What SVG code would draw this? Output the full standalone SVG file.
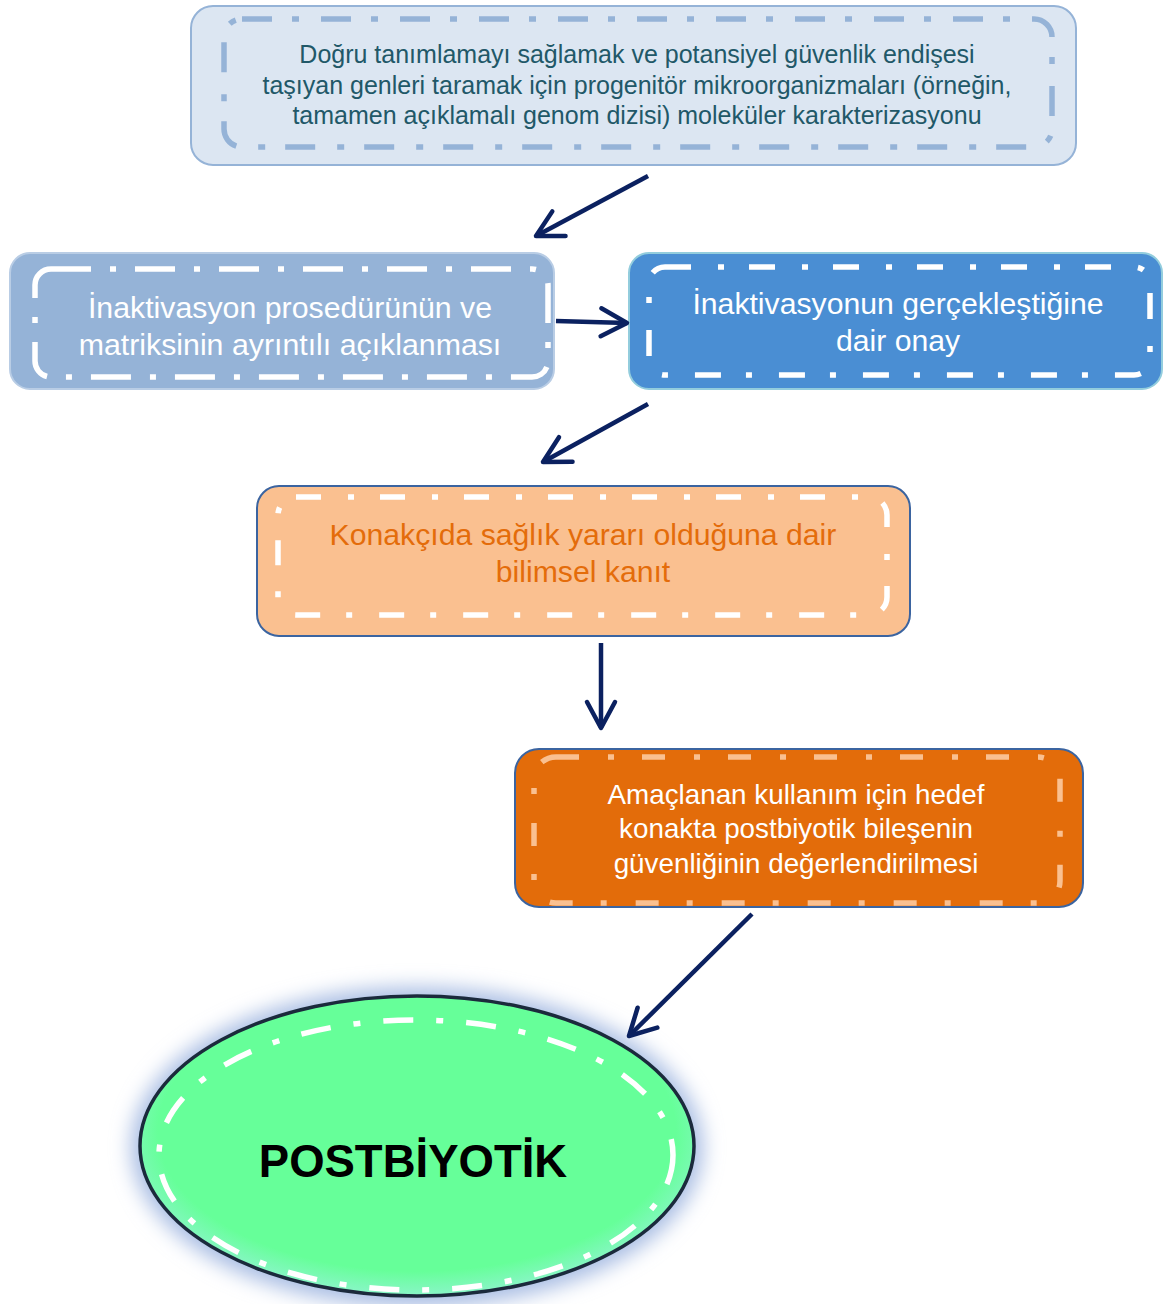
<svg xmlns="http://www.w3.org/2000/svg" width="1164" height="1304" viewBox="0 0 1164 1304">
<defs>
<style>
.t{font-family:"Liberation Sans",Arial,sans-serif;text-anchor:middle}
.conn{fill:none;stroke:#0b2160;stroke-width:4.5;marker-end:url(#ah)}
.inner{fill:none;stroke-width:5.5}
</style>
<marker id="ah" markerUnits="userSpaceOnUse" viewBox="-6 -18 38 36" markerWidth="38" markerHeight="36" refX="28" refY="0" orient="auto">
<path d="M2,-14 L28,0 L2,14" fill="none" stroke="#0b2160" stroke-width="4.5" stroke-linecap="round" stroke-linejoin="round"/>
</marker>
<filter id="glow" x="-20%" y="-20%" width="140%" height="140%">
<feGaussianBlur stdDeviation="10"/>
</filter>
<radialGradient id="eg" cx="0.5" cy="0.45" r="0.55">
<stop offset="0.85" stop-color="#66ff99"/>
<stop offset="1" stop-color="#8af5c8"/>
</radialGradient>
</defs>

<g id="node1">
<rect x="191" y="6" width="885" height="159" rx="22" fill="#dce6f2" stroke="#95b3d7" stroke-width="2"/>
<rect x="224" y="19" width="828" height="128" rx="18" class="inner" stroke="#95b3d7" stroke-dasharray="30 20 7 22"/>
<text class="t" font-size="25" fill="#215868"><tspan x="637" y="63">Doğru tanımlamayı sağlamak ve potansiyel güvenlik endişesi</tspan><tspan x="637" y="94">taşıyan genleri taramak için progenitör mikroorganizmaları (örneğin,</tspan><tspan x="637" y="124">tamamen açıklamalı genom dizisi) moleküler karakterizasyonu</tspan></text>
</g>

<g id="node2">
<rect x="10" y="253" width="544" height="136" rx="20" fill="#95b3d7" stroke="#b9cde5" stroke-width="2"/>
<rect x="35" y="269" width="513" height="108" rx="16" class="inner" stroke="#ffffff" stroke-dasharray="40 19 6 19"/>
<text class="t" font-size="30.3" fill="#ffffff"><tspan x="290" y="318">İnaktivasyon prosedürünün ve</tspan><tspan x="290" y="355">matriksinin ayrıntılı açıklanması</tspan></text>
</g>

<g id="node3">
<rect x="629" y="253" width="533" height="136" rx="20" fill="#4a8ed3" stroke="#93cddd" stroke-width="2"/>
<rect x="649" y="267" width="501" height="108" rx="16" class="inner" stroke="#ffffff" stroke-dasharray="26 27 6 25"/>
<text class="t" font-size="30.2" fill="#ffffff"><tspan x="898" y="314">İnaktivasyonun gerçekleştiğine</tspan><tspan x="898" y="351">dair onay</tspan></text>
</g>

<g id="node4">
<rect x="257" y="486" width="653" height="150" rx="22" fill="#fac090" stroke="#3b64a0" stroke-width="2"/>
<rect x="278" y="497" width="609" height="118" rx="18" class="inner" stroke="#ffffff" stroke-dasharray="25 27 6 26"/>
<text class="t" font-size="30.2" fill="#e46c0a"><tspan x="583" y="545">Konakçıda sağlık yararı olduğuna dair</tspan><tspan x="583" y="582">bilimsel kanıt</tspan></text>
</g>

<g id="node5">
<rect x="515" y="749" width="568" height="158" rx="24" fill="#e36c0a" stroke="#3b64a0" stroke-width="2"/>
<rect x="534" y="757" width="526" height="146" rx="22" class="inner" stroke="#fac090" stroke-dasharray="23 29 6 28"/>
<text class="t" font-size="27.8" fill="#ffffff"><tspan x="796" y="804">Amaçlanan kullanım için hedef</tspan><tspan x="796" y="838">konakta postbiyotik bileşenin</tspan><tspan x="796" y="873">güvenliğinin değerlendirilmesi</tspan></text>
</g>

<g id="node6">
<ellipse cx="417" cy="1147" rx="286" ry="160" fill="#a9bde3" filter="url(#glow)"/>
<ellipse cx="417" cy="1146" rx="277" ry="150" fill="url(#eg)" stroke="#1b2a3c" stroke-width="3.5"/>
<ellipse cx="416" cy="1155" rx="257" ry="135" class="inner" stroke="#ffffff" stroke-dasharray="30 23 7 23"/>
<text class="t" x="413" y="1177" font-size="45.5" font-weight="bold" fill="#000000">POSTBİYOTİK</text>
</g>

<g id="connectors">
<line class="conn" x1="648" y1="176" x2="536" y2="236"/>
<line class="conn" x1="556" y1="321" x2="627" y2="323"/>
<line class="conn" x1="648" y1="404" x2="543" y2="462"/>
<line class="conn" x1="601" y1="643" x2="601" y2="728"/>
<line class="conn" x1="752" y1="914" x2="629" y2="1036"/>
</g>
</svg>
